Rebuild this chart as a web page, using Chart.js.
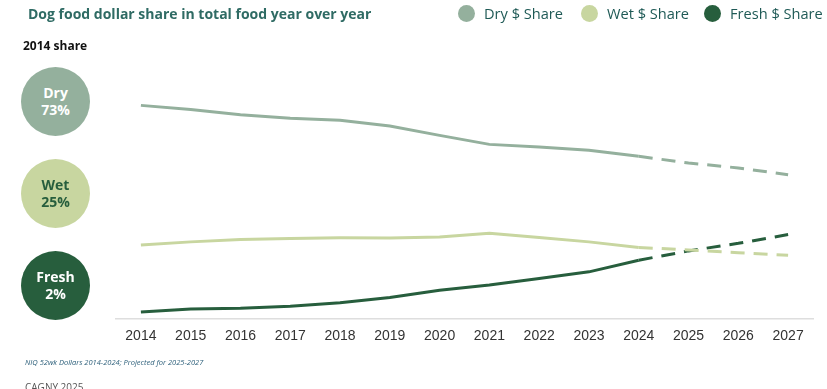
<!DOCTYPE html>
<html>
<head>
<meta charset="utf-8">
<script src="https://cdn.jsdelivr.net/npm/chart.js@4/dist/chart.umd.min.js"></script>
<style>
  html, body { margin:0; padding:0; background:#fff; width:827px; height:389px; overflow:hidden; font-family:"Open Sans", Lato, sans-serif; }
  #wrap { position:absolute; left:0; top:0; width:827px; height:389px; }
  #title { position:absolute; left:28px; top:4px; font-size:14px; font-weight:700; color:#2f6b64; white-space:nowrap; }
  #sub { position:absolute; left:23px; top:37px; font-size:12px; font-weight:700; color:#111; white-space:nowrap; }
  #legend { position:absolute; left:458px; top:3px; font-size:14.6px; color:#1f5a56; white-space:nowrap; }
  .li { position:absolute; top:0; line-height:20px; }
  .dot { position:absolute; top:2px; width:17px; height:17px; border-radius:50%; }
  .bub { position:absolute; width:69px; height:69px; border-radius:50%; text-align:center; font-weight:700; font-size:14px; line-height:16.5px; display:flex; align-items:center; justify-content:center; }
  #foot { position:absolute; left:25px; top:357px; font-size:7.5px; font-style:italic; color:#2c5f7a; white-space:nowrap; }
  #cag { position:absolute; left:25px; top:380px; font-size:10px; color:#555; white-space:nowrap; }
  canvas { position:absolute; left:0; top:0; }
</style>
</head>
<body>
<div id="wrap">
  <canvas id="c" width="827" height="389"></canvas>
  <div id="title">Dog food dollar share in total food year over year</div>
  <div id="sub">2014 share</div>
  <div id="legend"></div>
  <div id="bubbles"></div>
  <div id="foot">NIQ 52wk Dollars 2014-2024; Projected for 2025-2027</div>
  <div id="cag">CAGNY 2025</div>
</div>
<script>
const years = ['2014','2015','2016','2017','2018','2019','2020','2021','2022','2023','2024','2025','2026','2027'];
const dryShare   = [73, 71.6, 69.8, 68.6, 67.9, 65.9, 62.7, 59.6, 58.7, 57.6, 55.5, 53.2, 51.5, 49.2];
const wetShare   = [25, 26.1, 26.9, 27.3, 27.5, 27.4, 27.8, 29.1, 27.6, 26.1, 24.2, 23.3, 22.4, 21.5];
const freshShare = [2, 3.0, 3.3, 4.0, 5.2, 7.0, 9.5, 11.3, 13.5, 15.8, 19.8, 23.0, 25.6, 28.6];
const seriesNames = ['Dry $ Share', 'Wet $ Share', 'Fresh $ Share'];
const share2014Labels = ['Dry', 'Wet', 'Fresh'];
const share2014Values = ['73%', '25%', '2%'];
const projectedFromIndex = 10;

const colors = ['#94b09d', '#c8d6a0', '#275e3d'];
const bubbleText = ['#ffffff', '#275e3d', '#ffffff'];

// HTML legend
const legendX = [0, 123, 246];
const legend = document.getElementById('legend');
seriesNames.forEach((n, i) => {
  const d = document.createElement('div');
  d.className = 'li';
  d.style.left = legendX[i] + 'px';
  d.innerHTML = '<span class="dot" style="left:0;background:' + colors[i] + '"></span><span style="margin-left:26px">' + n + '</span>';
  legend.appendChild(d);
});

// 2014 share bubbles
const bubTops = [67, 159, 251];
const bubbles = document.getElementById('bubbles');
share2014Labels.forEach((n, i) => {
  const b = document.createElement('div');
  b.className = 'bub';
  b.style.left = '21px';
  b.style.top = bubTops[i] + 'px';
  b.style.background = colors[i];
  b.style.color = bubbleText[i];
  b.innerHTML = '<div>' + n + '<br>' + share2014Values[i] + '</div>';
  bubbles.appendChild(b);
});

const dashed = ctx => ctx.p0DataIndex >= projectedFromIndex ? [14, 9] : undefined;
const mk = (label, data, color) => ({
  label, data,
  borderColor: color,
  backgroundColor: color,
  borderWidth: 3,
  pointRadius: 0,
  pointHoverRadius: 0,
  tension: 0,
  borderCapStyle: 'butt',
  segment: { borderDash: dashed }
});

new Chart(document.getElementById('c'), {
  type: 'line',
  data: {
    labels: years,
    datasets: [
      mk(seriesNames[0], dryShare, colors[0]),
      mk(seriesNames[1], wetShare, colors[1]),
      mk(seriesNames[2], freshShare, colors[2])
    ]
  },
  options: {
    responsive: false,
    animation: false,
    events: [],
    layout: { padding: { left: 116, right: 14, top: 85, bottom: 40 } },
    plugins: { legend: { display: false }, tooltip: { enabled: false }, title: { display: false } },
    scales: {
      x: {
        offset: true,
        grid: { display: false, drawTicks: false },
        border: { display: true, color: '#dedede', width: 1.5 },
        ticks: { padding: 9, color: '#333', font: { family: 'Liberation Sans, Arial, sans-serif', size: 14 }, maxRotation: 0, autoSkip: false },
        afterFit: s => { s.height = 30; }
      },
      y: {
        display: false,
        min: -0.4,
        max: 80
      }
    }
  }
});
</script>
</body>
</html>
